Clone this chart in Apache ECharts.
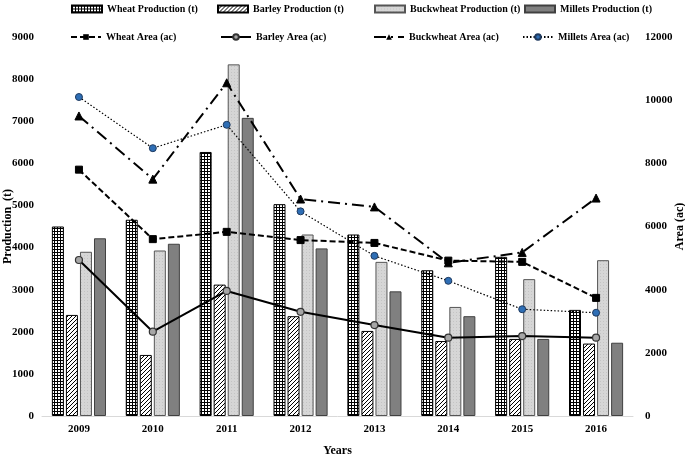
<!DOCTYPE html>
<html>
<head>
<meta charset="utf-8">
<script src="https://cdn.jsdelivr.net/npm/echarts@6/dist/echarts.min.js"></script>
<style>html,body{margin:0;padding:0;background:#fff;}#c{width:685px;height:457px;}</style>
</head>
<body>
<div id="c"></div>
<script>
const years = ['2009','2010','2011','2012','2013','2014','2015','2016'];
const wheatProd = [4500, 4660, 6270, 5030, 4310, 3460, 3780, 2520];
const barleyProd = [2400, 1450, 3120, 2370, 2020, 1780, 1830, 1720];
const buckwheatProd = [3900, 3930, 8350, 4310, 3660, 2590, 3250, 3700];
const milletsProd = [4220, 4090, 7080, 3980, 2960, 2370, 1830, 1740];
const wheatArea = [7800, 5600, 5830, 5570, 5480, 4920, 4880, 3740];
const barleyArea = [4940, 2670, 3960, 3300, 2880, 2480, 2530, 2480];
const buckwheatArea = [9500, 7500, 10550, 6870, 6620, 4850, 5180, 6900];
const milletsArea = [10100, 8480, 9220, 6480, 5070, 4280, 3380, 3270];
const leftTicks = {min: 0, max: 9000, interval: 1000};
const rightTicks = {min: 0, max: 12000, interval: 2000};

function makePattern(draw, w, h) {
  const c = document.createElement('canvas');
  c.width = w; c.height = h;
  const ctx = c.getContext('2d');
  draw(ctx);
  return {image: c, repeat: 'repeat'};
}
const checker = makePattern(ctx => {
  ctx.fillStyle = '#000'; ctx.fillRect(0,0,3,3);
  ctx.fillStyle = '#fff'; ctx.fillRect(1,1,2,2);
}, 3, 3);
const hatch = makePattern(ctx => {
  ctx.fillStyle = '#fff'; ctx.fillRect(0,0,4,4);
  ctx.strokeStyle = '#000'; ctx.lineWidth = 1;
  ctx.beginPath(); ctx.moveTo(-1,5); ctx.lineTo(5,-1); ctx.stroke();
  ctx.beginPath(); ctx.moveTo(-1,1); ctx.lineTo(1,-1); ctx.stroke();
  ctx.beginPath(); ctx.moveTo(3,5); ctx.lineTo(5,3); ctx.stroke();
}, 4, 4);
const dotted = makePattern(ctx => {
  ctx.fillStyle = '#d6d6d6'; ctx.fillRect(0,0,3,3);
  ctx.fillStyle = '#c4c4c4'; ctx.fillRect(0,0,1,1);
}, 3, 3);

const font = 'Liberation Serif';
const txt = {fontFamily: font, fontWeight: 'bold', fontSize: 11, color: '#000'};
const plain = v => String(v);

function leg(name, left, top, icon) {
  const o = {data: [name], left: left, top: top, itemWidth: 30, itemHeight: 7, itemGap: 0,
    textStyle: Object.assign({}, txt, {fontSize: 10}), padding: 0, selectedMode: false};
  if (icon) o.icon = icon;
  return o;
}

const barBase = {type: 'bar', barWidth: 12, barGap: '17%', yAxisIndex: 0};
const option = {
  animation: false,
  backgroundColor: '#fff',
  grid: {left: 42, right: 52, top: 37, bottom: 41, containLabel: false, outerBoundsMode: 'none'},
  legend: [
    leg('Wheat Production (t)', 71, 4, 'rect'),
    leg('Barley Production (t)', 217, 4, 'rect'),
    leg('Buckwheat Production (t)', 374, 4, 'rect'),
    leg('Millets Production (t)', 524, 4, 'rect'),
    leg('Wheat Area (ac)', 70, 32),
    leg('Barley Area (ac)', 220, 32),
    leg('Buckwheat Area (ac)', 373, 32),
    leg('Millets Area (ac)', 522, 32)
  ],
  xAxis: {
    type: 'category', data: years,
    name: 'Years', nameLocation: 'middle', nameGap: 29, nameMoveOverlap: false,
    nameTextStyle: Object.assign({}, txt, {fontSize: 12}),
    axisLine: {lineStyle: {color: '#d9d9d9', width: 1}},
    axisTick: {show: false},
    axisLabel: Object.assign({}, txt, {margin: 8})
  },
  yAxis: [
    Object.assign({type: 'value', position: 'left',
      name: 'Production  (t)', nameLocation: 'middle', nameGap: 28, nameRotate: 90, nameMoveOverlap: false,
      nameTextStyle: Object.assign({}, txt, {fontSize: 12}),
      axisLine: {show: false}, axisTick: {show: false}, splitLine: {show: false},
      axisLabel: Object.assign({}, txt, {margin: 8, formatter: plain})}, leftTicks),
    Object.assign({type: 'value', position: 'right',
      name: 'Area (ac)', nameLocation: 'middle', nameGap: 41, nameRotate: 90, nameMoveOverlap: false,
      nameTextStyle: Object.assign({}, txt, {fontSize: 12}),
      axisLine: {show: false}, axisTick: {show: false}, splitLine: {show: false},
      axisLabel: Object.assign({}, txt, {margin: 12, formatter: plain})}, rightTicks)
  ],
  series: [
    Object.assign({}, barBase, {name: 'Wheat Production (t)', data: wheatProd,
      itemStyle: {color: checker, borderColor: '#000', borderWidth: 1}}),
    Object.assign({}, barBase, {name: 'Barley Production (t)', data: barleyProd,
      itemStyle: {color: hatch, borderColor: '#000', borderWidth: 1}}),
    Object.assign({}, barBase, {name: 'Buckwheat Production (t)', data: buckwheatProd,
      itemStyle: {color: dotted, borderColor: '#555', borderWidth: 1}}),
    Object.assign({}, barBase, {name: 'Millets Production (t)', data: milletsProd,
      itemStyle: {color: '#808080', borderColor: '#404040', borderWidth: 1}}),
    {type: 'line', name: 'Wheat Area (ac)', yAxisIndex: 1, data: wheatArea,
      symbol: 'rect', symbolSize: 7,
      lineStyle: {color: '#000', width: 2, type: [6, 3]},
      itemStyle: {color: '#000', borderColor: '#000'}},
    {type: 'line', name: 'Barley Area (ac)', yAxisIndex: 1, data: barleyArea,
      symbol: 'circle', symbolSize: 7,
      lineStyle: {color: '#000', width: 2, type: 'solid'},
      itemStyle: {color: '#a6a6a6', borderColor: '#333', borderWidth: 1.2}},
    {type: 'line', name: 'Buckwheat Area (ac)', yAxisIndex: 1, data: buckwheatArea,
      symbol: 'triangle', symbolSize: 8,
      lineStyle: {color: '#000', width: 2, type: [12, 5, 2, 5]},
      itemStyle: {color: '#000', borderColor: '#000'}},
    {type: 'line', name: 'Millets Area (ac)', yAxisIndex: 1, data: milletsArea,
      symbol: 'circle', symbolSize: 7,
      lineStyle: {color: '#000', width: 1.2, type: [1.5, 2]},
      itemStyle: {color: '#2e6eb5', borderColor: '#1f3a5f', borderWidth: 1}}
  ]
};
const chart = echarts.init(document.getElementById('c'), null, {renderer: 'canvas'});
chart.setOption(option);
</script>
</body>
</html>
